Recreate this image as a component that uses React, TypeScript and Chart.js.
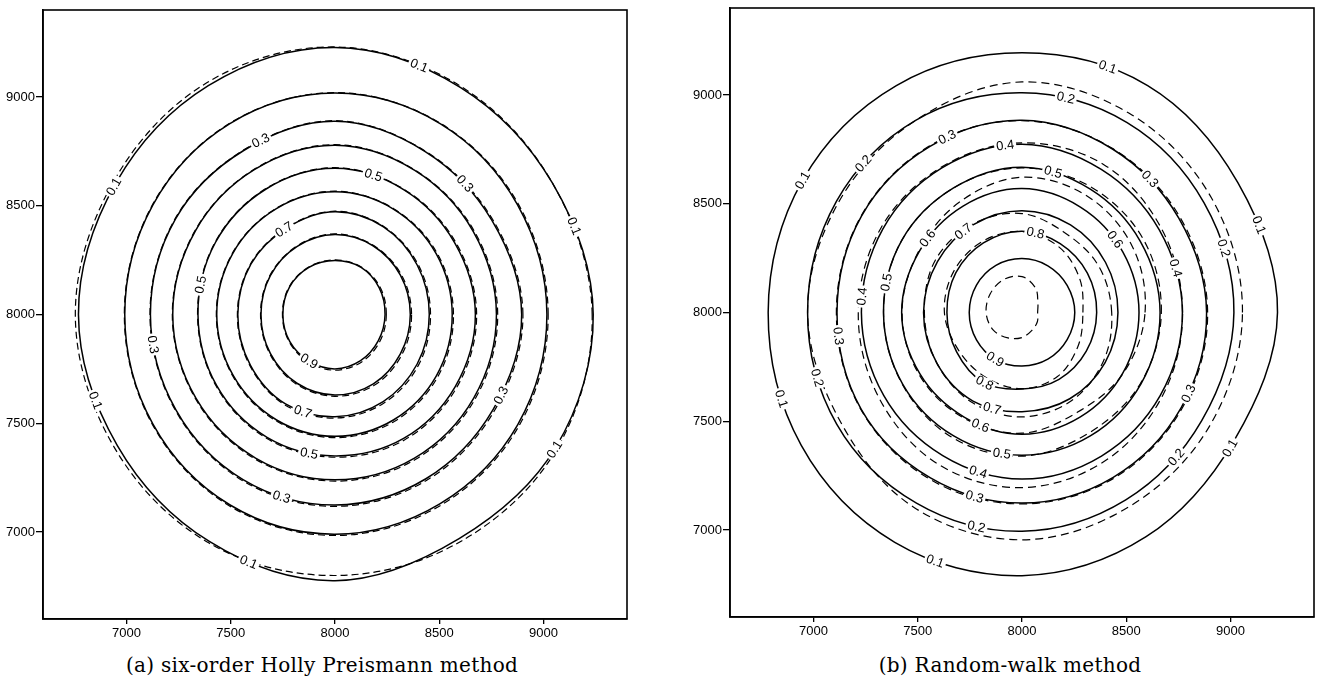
import React, { useEffect, useRef } from "react";
import { Chart, registerables } from "chart.js";

Chart.register(...registerables);

// ---------- data ----------
// Contour radii (data units from the plume centre) sampled every 30 degrees, counter-clockwise from east.
const ANGLES = [0, 30, 60, 90, 120, 150, 180, 210, 240, 270, 300, 330];
const CENTER_X = 8000;
const CENTER_Y = 8000;
const LEVELS = [0.1, 0.2, 0.3, 0.4, 0.5, 0.6, 0.7, 0.8, 0.9];
const DASHED_LEVELS_B = [0.2, 0.3, 0.4, 0.5, 0.6, 0.7, 0.8, 0.9];

const X_TICKS = [7000, 7500, 8000, 8500, 9000];
const Y_TICKS = [7000, 7500, 8000, 8500, 9000];
const AXIS_MIN = 6600;
const AXIS_MAX = 9400;

// (a) six-order Holly Preismann method: solid = analytic, dashed = numerical
const hollySolid = [
  [1238, 1205, 1205, 1228, 1215, 1212, 1230, 1205, 1205, 1224, 1190, 1222],
  [1016, 1010, 1012, 1018, 1012, 1008, 1008, 1008, 1010, 1010, 1005, 1012],
  [895, 868, 865, 888, 872, 882, 885, 880, 878, 876, 872, 875],
  [774, 765, 765, 778, 770, 772, 778, 770, 762, 760, 762, 768],
  [673, 662, 662, 672, 665, 662, 657, 655, 652, 650, 658, 665],
  [562, 560, 560, 564, 562, 565, 567, 563, 560, 560, 560, 562],
  [452, 455, 465, 472, 460, 465, 466, 468, 475, 470, 462, 455],
  [361, 362, 365, 368, 362, 358, 355, 358, 365, 370, 368, 362],
  [240, 245, 250, 248, 250, 252, 250, 250, 248, 250, 245, 240],
];
const hollyDashed = [
  [1233, 1205, 1210, 1230, 1230, 1225, 1245, 1222, 1212, 1200, 1205, 1230],
  [1022, 1015, 1014, 1020, 1014, 1010, 1010, 1011, 1015, 1016, 1013, 1020],
  [901, 873, 867, 891, 874, 884, 887, 883, 883, 882, 880, 883],
  [780, 770, 767, 781, 772, 774, 780, 773, 767, 766, 770, 776],
  [679, 667, 664, 675, 667, 664, 659, 658, 657, 656, 666, 673],
  [568, 565, 562, 567, 564, 567, 569, 566, 565, 566, 568, 570],
  [458, 460, 467, 475, 462, 467, 468, 471, 480, 476, 470, 463],
  [367, 367, 367, 371, 364, 360, 357, 361, 370, 376, 376, 370],
  [246, 250, 252, 251, 252, 254, 252, 253, 253, 256, 253, 248],
];
const hollyLabelLevels = [0.1, 0.3, 0.5, 0.3, 0.1, 0.1, 0.7, 0.5, 0.3, 0.9, 0.1, 0.3, 0.7, 0.1, 0.5, 0.3, 0.1];
const hollyLabelAngles = [70.6, 114, 74, 44, 151, 19.5, 122, 168, 189, 240, 199, 335, 251, 329.5, 259, 253, 250];

// (b) Random-walk method
const walkSolid = [
  [1225, 1195, 1205, 1194, 1205, 1215, 1217, 1222, 1220, 1210, 1190, 1175],
  [1016, 1008, 1008, 1010, 1020, 1026, 1028, 1026, 1012, 1006, 995, 995],
  [885, 868, 868, 884, 882, 888, 887, 890, 878, 876, 875, 880],
  [769, 760, 760, 774, 768, 770, 770, 765, 760, 766, 762, 765],
  [662, 655, 655, 668, 660, 665, 664, 660, 655, 656, 655, 658],
  [561, 558, 560, 570, 565, 567, 577, 565, 555, 560, 556, 558],
  [460, 462, 465, 468, 466, 468, 472, 470, 470, 456, 458, 460],
  [358, 362, 366, 374, 370, 366, 360, 362, 371, 352, 355, 356],
  [253, 250, 248, 248, 250, 252, 253, 252, 251, 246, 248, 250],
];
const walkDashed = [
  [1057, 1050, 1050, 1060, 1020, 1015, 1028, 1005, 1035, 1045, 1030, 1040],
  [890, 875, 870, 882, 885, 890, 890, 892, 885, 880, 880, 885],
  [770, 772, 785, 780, 772, 780, 785, 790, 805, 805, 790, 775],
  [668, 672, 665, 665, 660, 665, 664, 662, 665, 660, 640, 655],
  [590, 610, 620, 622, 590, 570, 575, 570, 560, 555, 530, 560],
  [430, 425, 420, 455, 470, 480, 468, 470, 478, 480, 470, 450],
  [292, 318, 350, 372, 378, 378, 372, 350, 345, 350, 340, 310],
  [75, 88, 130, 165, 175, 175, 172, 160, 135, 115, 95, 85],
];
const walkLabelLevels = [
  0.1, 0.2, 0.3, 0.4, 0.1, 0.2, 0.5, 0.3, 0.1, 0.7, 0.6, 0.8, 0.6, 0.2, 0.4, 0.5,
  0.4, 0.3, 0.9, 0.2, 0.8, 0.3, 0.1, 0.7, 0.6, 0.5, 0.1, 0.2, 0.4, 0.3, 0.2, 0.1,
];
const walkLabelAngles = [
  70, 78, 114, 96, 150, 138, 77, 45, 19.5, 127, 143, 80, 37, 17, 15.5, 168,
  174.5, 187, 239, 197, 241, 335, 199, 252, 249, 261.5, 328, 318, 254, 255, 257.5, 250,
];

// ---------- helpers ----------
const FONT_SANS = '"Liberation Sans", Arial, Helvetica, sans-serif';

function toPoints(radii: number[]) {
  return radii.map((r, i) => {
    const a = (ANGLES[i] * Math.PI) / 180;
    return { x: CENTER_X + r * Math.cos(a), y: CENTER_Y + r * Math.sin(a) };
  });
}

function radiusAt(radii: number[], deg: number) {
  const d = ((deg % 360) + 360) % 360;
  const i = Math.floor(d / 30);
  const f = (d - i * 30) / 30;
  const r0 = radii[i % radii.length];
  const r1 = radii[(i + 1) % radii.length];
  return r0 + (r1 - r0) * f;
}

const closeLoops = {
  id: "closeLoops",
  beforeDatasetsDraw(chart: any) {
    chart.data.datasets.forEach((_: any, i: number) => {
      const line: any = chart.getDatasetMeta(i).dataset;
      if (line) {
        line._loop = true;
        line._fullLoop = true;
        line._pointsUpdated = false;
        line._segments = undefined;
        line._path = undefined;
      }
    });
  },
};

const frame = {
  id: "frame",
  afterDraw(chart: any) {
    const { ctx, chartArea: a } = chart;
    ctx.save();
    ctx.strokeStyle = "#000";
    ctx.lineWidth = 1.6;
    ctx.strokeRect(a.left, a.top, a.right - a.left, a.bottom - a.top);
    ctx.restore();
  },
};

function makeLabelPlugin(solid: number[][], levels: number[], angles: number[]) {
  return {
    id: "contourLabels",
    afterDatasetsDraw(chart: any) {
      const { ctx } = chart;
      const xs = chart.scales.x;
      const ys = chart.scales.y;
      const pix = (radii: number[], deg: number) => {
        const r = radiusAt(radii, deg);
        const a = (deg * Math.PI) / 180;
        return {
          x: xs.getPixelForValue(CENTER_X + r * Math.cos(a)),
          y: ys.getPixelForValue(CENTER_Y + r * Math.sin(a)),
        };
      };
      ctx.save();
      ctx.font = `13px ${FONT_SANS}`;
      ctx.textAlign = "center";
      ctx.textBaseline = "middle";
      levels.forEach((lv, k) => {
        const li = LEVELS.findIndex((l) => Math.abs(l - lv) < 1e-6);
        const radii = solid[li];
        const deg = angles[k];
        const p = pix(radii, deg);
        const p1 = pix(radii, deg - 2);
        const p2 = pix(radii, deg + 2);
        let rot = Math.atan2(p2.y - p1.y, p2.x - p1.x);
        if (rot > Math.PI / 2) rot -= Math.PI;
        if (rot < -Math.PI / 2) rot += Math.PI;
        const text = lv.toFixed(1);
        const w = ctx.measureText(text).width;
        ctx.save();
        ctx.translate(p.x, p.y);
        ctx.rotate(rot);
        ctx.fillStyle = "#fff";
        ctx.fillRect(-w / 2 - 2, -5.5, w + 4, 11);
        ctx.fillStyle = "#000";
        ctx.fillText(text, 0, 0.5);
        ctx.restore();
      });
      ctx.restore();
    },
  };
}

type PanelProps = {
  left: number;
  width: number;
  height: number;
  padding: { left: number; top: number; right: number; bottom: number };
  yAxisWidth: number;
  xAxisHeight: number;
  solid: number[][];
  dashed: number[][];
  dashedLevels: number[];
  dash: number[];
  labelLevels: number[];
  labelAngles: number[];
};

function ContourPanel(props: PanelProps) {
  const ref = useRef<HTMLCanvasElement | null>(null);
  useEffect(() => {
    if (!ref.current) return;
    const datasets: any[] = [];
    props.dashed.forEach((radii, i) => {
      datasets.push({
        label: "numerical " + props.dashedLevels[i].toFixed(1),
        data: toPoints(radii),
        borderColor: "#000",
        borderWidth: 1.2,
        borderDash: props.dash,
        pointRadius: 0,
        tension: 0.35,
        fill: false,
      });
    });
    props.solid.forEach((radii, i) => {
      datasets.push({
        label: "analytic " + LEVELS[i].toFixed(1),
        data: toPoints(radii),
        borderColor: "#000",
        borderWidth: 1.5,
        pointRadius: 0,
        tension: 0.35,
        fill: false,
      });
    });
    const tickFont = { family: FONT_SANS, size: 13 };
    const chart = new Chart(ref.current, {
      type: "line",
      data: { datasets },
      options: {
        animation: false,
        responsive: false,
        devicePixelRatio: 1,
        layout: { padding: props.padding },
        plugins: { legend: { display: false }, tooltip: { enabled: false }, title: { display: false } },
        scales: {
          x: {
            type: "linear",
            min: AXIS_MIN,
            max: AXIS_MAX,
            afterBuildTicks: (axis: any) => {
              axis.ticks = X_TICKS.map((v) => ({ value: v }));
            },
            afterFit: (axis: any) => {
              axis.height = props.xAxisHeight;
              axis.paddingLeft = 0;
              axis.paddingRight = 0;
            },
            ticks: { color: "#000", font: tickFont, padding: 2, maxRotation: 0, callback: (v: any) => String(v) },
            grid: { drawOnChartArea: false, drawTicks: true, tickLength: 5, color: "#000", lineWidth: 1.3 },
            border: { display: true, color: "#000", width: 1.6 },
          },
          y: {
            type: "linear",
            min: AXIS_MIN,
            max: AXIS_MAX,
            afterBuildTicks: (axis: any) => {
              axis.ticks = Y_TICKS.map((v) => ({ value: v }));
            },
            afterFit: (axis: any) => {
              axis.width = props.yAxisWidth;
              axis.paddingTop = 0;
              axis.paddingBottom = 0;
            },
            ticks: { color: "#000", font: tickFont, padding: 1, callback: (v: any) => String(v) },
            grid: { drawOnChartArea: false, drawTicks: true, tickLength: 7, color: "#000", lineWidth: 1.3 },
            border: { display: true, color: "#000", width: 1.6 },
          },
        },
      },
      plugins: [closeLoops, frame, makeLabelPlugin(props.solid, props.labelLevels, props.labelAngles)],
    } as any);
    return () => chart.destroy();
  }, []);
  return (
    <canvas
      ref={ref}
      width={props.width}
      height={props.height}
      style={{ position: "absolute", left: props.left, top: 0, width: props.width, height: props.height }}
    />
  );
}

const captionStyle: React.CSSProperties = {
  position: "absolute",
  top: 652,
  height: 26,
  lineHeight: "26px",
  fontFamily: '"DejaVu Serif", "Liberation Serif", serif',
  fontSize: 20,
  letterSpacing: "0.3px",
  color: "#000",
  whiteSpace: "nowrap",
  transform: "translateX(-50%)",
};

export default function App() {
  return (
    <div style={{ position: "absolute", left: 0, top: 0, width: 1319, height: 683, background: "#fff", overflow: "hidden" }}>
      <ContourPanel
        left={0}
        width={660}
        height={650}
        padding={{ left: 0, top: 10, right: 33, bottom: 0 }}
        yAxisWidth={43}
        xAxisHeight={31}
        solid={hollySolid}
        dashed={hollyDashed}
        dashedLevels={LEVELS}
        dash={[7, 4]}
        labelLevels={hollyLabelLevels}
        labelAngles={hollyLabelAngles}
      />
      <ContourPanel
        left={660}
        width={659}
        height={650}
        padding={{ left: 27, top: 8, right: 5, bottom: 0 }}
        yAxisWidth={43}
        xAxisHeight={33}
        solid={walkSolid}
        dashed={walkDashed}
        dashedLevels={DASHED_LEVELS_B}
        dash={[8, 5]}
        labelLevels={walkLabelLevels}
        labelAngles={walkLabelAngles}
      />
      <div style={{ ...captionStyle, left: 322 }}>(a) six-order Holly Preismann method</div>
      <div style={{ ...captionStyle, left: 1010 }}>(b) Random-walk method</div>
    </div>
  );
}
